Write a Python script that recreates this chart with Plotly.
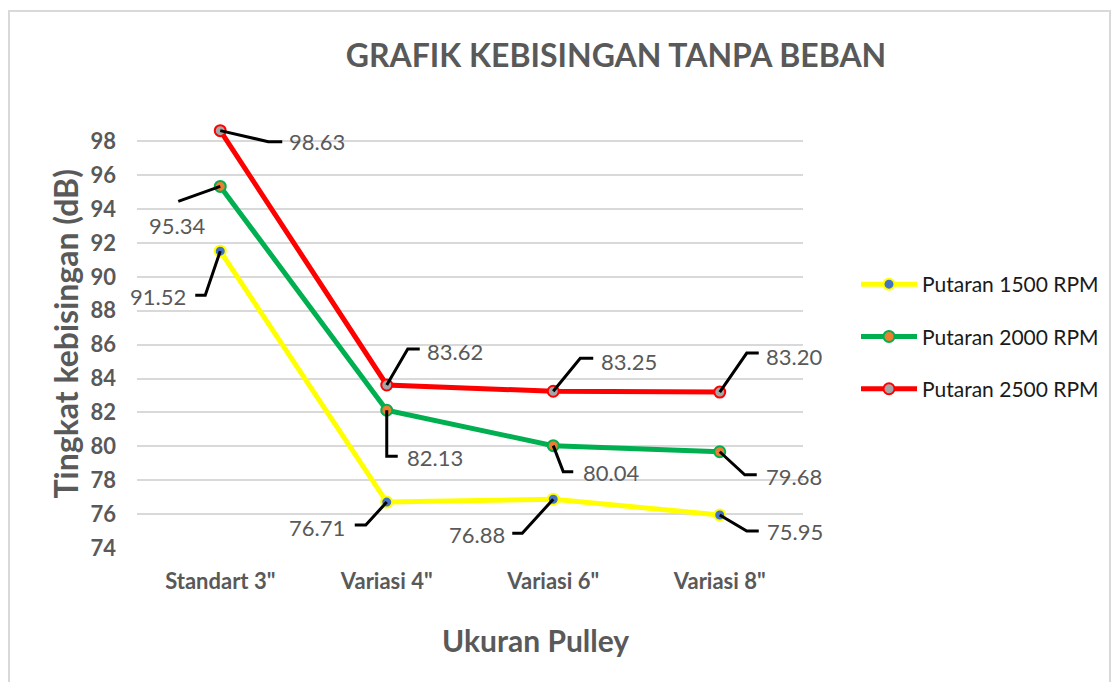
import plotly.graph_objects as go

categories = ['Standart 3"', 'Variasi 4"', 'Variasi 6"', 'Variasi 8"']
rpm1500 = [91.52, 76.71, 76.88, 75.95]
rpm2000 = [95.34, 82.13, 80.04, 79.68]
rpm2500 = [98.63, 83.62, 83.25, 83.20]
series_names = ["Putaran 1500 RPM", "Putaran 2000 RPM", "Putaran 2500 RPM"]
y_ticks = [74, 76, 78, 80, 82, 84, 86, 88, 90, 92, 94, 96, 98]

series_values = [rpm1500, rpm2000, rpm2500]
line_colors = ["#FFFF00", "#00B050", "#FF0000"]
marker_colors = ["#4472C4", "#ED7D31", "#A5A5A5"]

# leader-line / label offsets in screen pixels (dx right, dy down):
# (elbow dx, elbow dy, end dx, label dx, label dy, label anchor)
offsets = [
    [(-15, 44, -25, -32, 45, "right"), (-21, 23, -32, -40, 25, "right"),
     (-31, 34, -41, -46, 35, "right"), (27, 16, 39, 45, 17, "left")],
    [(-42, 15, -42, -13, 39, "right"), (0, 46, 11, 18, 47, "left"),
     (10, 26, 20, 28, 27, "left"), (25, 23, 37, 44, 25, "left")],
    [(48, 11, 62, 67, 11, "left"), (21, -36, 33, 38, -33, "left"),
     (27, -33, 40, 46, -30, "left"), (27, -39, 39, 44, -36, "left")],
]

x_idx = list(range(len(categories)))
fig = go.Figure()
for k in range(3):
    fig.add_trace(go.Scatter(
        x=x_idx, y=series_values[k], name=series_names[k], mode="lines+markers",
        legendgroup=series_names[k],
        line=dict(color=line_colors[k], width=5),
        marker=dict(size=11, color=marker_colors[k],
                    line=dict(color=line_colors[k], width=2)),
    ))

shapes = []
annotations = []
for k in range(3):
    for i, v in enumerate(series_values[k]):
        ex, ey, hx, lx, ly, anc = offsets[k][i]
        path = f"M0,0 L{ex},{-ey} L{hx},{-ey}"
        shapes.append(dict(type="path", xref="x", yref="y",
                           xsizemode="pixel", ysizemode="pixel",
                           xanchor=i, yanchor=v, path=path,
                           line=dict(color="black", width=3)))
        annotations.append(dict(x=i, y=v, xref="x", yref="y",
                                text=f"{v:.2f}", showarrow=False,
                                xshift=lx, yshift=-ly, xanchor=anc,
                                yanchor="middle",
                                font=dict(family="Lato", size=22, color="#595959")))

# outer frame
shapes.append(dict(type="rect", xref="paper", yref="paper",
                   x0=(9 - 137) / 666, x1=(1110 - 137) / 666,
                   y0=-0.4, y1=(548 - 11) / 427,
                   line=dict(color="#D9D9D9", width=2), layer="below"))

annotations.append(dict(text="Ukuran Pulley", xref="paper", yref="paper",
                        x=(535 - 137) / 666, y=(548 - 640) / 427,
                        xanchor="center", yanchor="middle", showarrow=False,
                        font=dict(family="Lato", size=30, color="#595959", weight="bold")))
annotations.append(dict(text="Tingkat kebisingan (dB)", xref="paper", yref="paper",
                        x=(65 - 137) / 666, y=0.5, textangle=-90,
                        xanchor="center", yanchor="middle", showarrow=False,
                        font=dict(family="Lato", size=32, color="#595959", weight="bold")))

fig.update_layout(
    width=1112, height=682,
    margin=dict(l=137, r=309, t=121, b=134, autoexpand=False),
    paper_bgcolor="white", plot_bgcolor="white",
    title=dict(text="GRAFIK KEBISINGAN TANPA BEBAN", x=616 / 1112, y=1 - 56 / 682,
               xref="container", yref="container", xanchor="center", yanchor="middle",
               font=dict(family="Lato", size=32, color="#595959", weight="bold")),
    xaxis=dict(range=[-0.5, 3.5], tickvals=x_idx, ticktext=categories,
               showgrid=False, zeroline=False, showline=False,
               ticklabelstandoff=18,
               tickfont=dict(family="Lato", size=22, color="#595959", weight="bold")),
    yaxis=dict(range=[74, 99.2], tickvals=y_ticks, showgrid=True,
               gridcolor="#D9D9D9", gridwidth=2, zeroline=False, showline=False,
               ticklabelstandoff=20,
               tickfont=dict(family="Lato", size=22, color="#595959", weight="bold")),
    legend=dict(x=(856 - 137) / 666, y=(548 - 264) / 427, xanchor="left", yanchor="top",
                tracegroupgap=22, itemwidth=56,
                font=dict(family="Lato", size=21, color="#1A1A1A")),
    shapes=shapes, annotations=annotations, showlegend=True,
)

fig.write_html("out.html")
